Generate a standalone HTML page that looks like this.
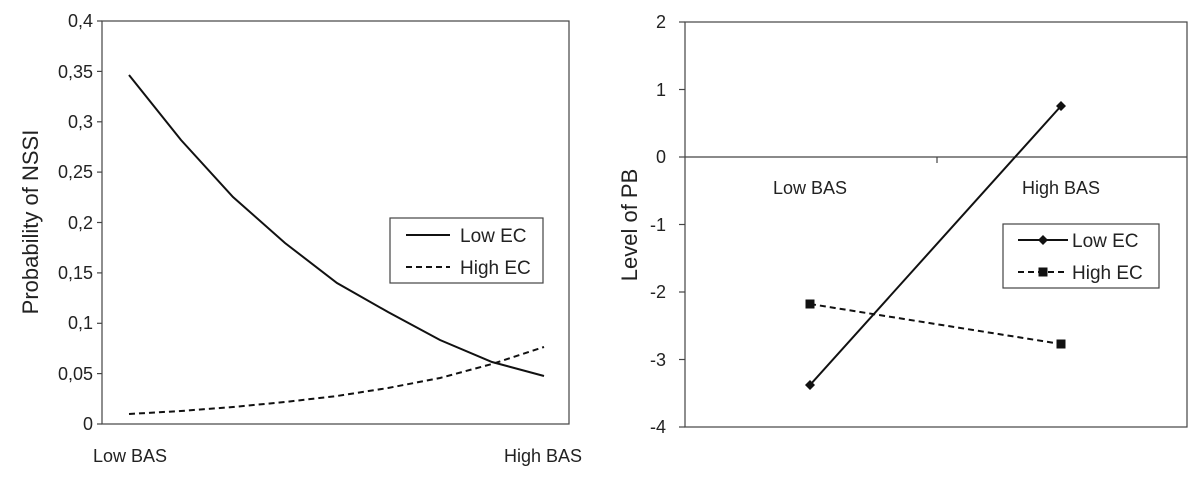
<!DOCTYPE html>
<html><head><style>body{margin:0;background:#fff}svg{display:block}text{font-family:"Liberation Sans",sans-serif;fill:#222}</style></head><body>
<svg width="1200" height="480" viewBox="0 0 1200 480">
<!-- Left chart -->
<rect x="102" y="21" width="467" height="403" fill="none" stroke="#444" stroke-width="1.2"/>
<g stroke="#444" stroke-width="1.2">
<line x1="97" y1="21" x2="102" y2="21"/><line x1="97" y1="71.4" x2="102" y2="71.4"/><line x1="97" y1="121.8" x2="102" y2="121.8"/><line x1="97" y1="172.1" x2="102" y2="172.1"/><line x1="97" y1="222.5" x2="102" y2="222.5"/><line x1="97" y1="272.9" x2="102" y2="272.9"/><line x1="97" y1="323.3" x2="102" y2="323.3"/><line x1="97" y1="373.6" x2="102" y2="373.6"/><line x1="97" y1="424" x2="102" y2="424"/>
</g>
<g font-size="18" text-anchor="end">
<text x="93" y="27">0,4</text><text x="93" y="78">0,35</text><text x="93" y="128">0,3</text><text x="93" y="178">0,25</text><text x="93" y="229">0,2</text><text x="93" y="279">0,15</text><text x="93" y="329">0,1</text><text x="93" y="380">0,05</text><text x="93" y="430">0</text>
</g>
<text transform="translate(38,222) rotate(-90)" font-size="22" text-anchor="middle">Probability of NSSI</text>
<text x="130" y="462" font-size="18" text-anchor="middle">Low BAS</text>
<text x="543" y="462" font-size="18" text-anchor="middle">High BAS</text>
<polyline fill="none" stroke="#111" stroke-width="2" points="129,75 181,140 233,197 285,243 337,283 388,312 440,340 492,362 544,376"/>
<polyline fill="none" stroke="#111" stroke-width="2" stroke-dasharray="6,4" points="129,414 181,411 233,407 285,402 337,396 388,388 440,378 492,364 544,347"/>
<rect x="390" y="218" width="153" height="65" fill="#fff" stroke="#444" stroke-width="1.2"/>
<line x1="406" y1="235" x2="450" y2="235" stroke="#111" stroke-width="2"/>
<line x1="406" y1="267" x2="450" y2="267" stroke="#111" stroke-width="2" stroke-dasharray="6,4"/>
<text x="460" y="242" font-size="19">Low EC</text>
<text x="460" y="274" font-size="19">High EC</text>
<!-- Right chart -->
<rect x="685" y="22" width="502" height="405" fill="none" stroke="#444" stroke-width="1.2"/>
<line x1="685" y1="157" x2="1187" y2="157" stroke="#444" stroke-width="1.2"/>
<line x1="937" y1="157" x2="937" y2="163" stroke="#444" stroke-width="1.2"/>
<g stroke="#444" stroke-width="1.2">
<line x1="679" y1="22" x2="685" y2="22"/><line x1="679" y1="89.5" x2="685" y2="89.5"/><line x1="679" y1="157" x2="685" y2="157"/><line x1="679" y1="224.5" x2="685" y2="224.5"/><line x1="679" y1="292" x2="685" y2="292"/><line x1="679" y1="359.5" x2="685" y2="359.5"/><line x1="679" y1="427" x2="685" y2="427"/>
</g>
<g font-size="18" text-anchor="end">
<text x="666" y="28">2</text><text x="666" y="96">1</text><text x="666" y="163">0</text><text x="666" y="231">-1</text><text x="666" y="298">-2</text><text x="666" y="366">-3</text><text x="666" y="433">-4</text>
</g>
<text transform="translate(637,225) rotate(-90)" font-size="22" text-anchor="middle">Level of PB</text>
<text x="810" y="194" font-size="18" text-anchor="middle">Low BAS</text>
<text x="1061" y="194" font-size="18" text-anchor="middle">High BAS</text>
<line x1="810" y1="385" x2="1061" y2="106" stroke="#111" stroke-width="2"/>
<line x1="810" y1="304" x2="1061" y2="344" stroke="#111" stroke-width="2" stroke-dasharray="6,4"/>
<path d="M810 380 L815 385 L810 390 L805 385Z M1061 101 L1066 106 L1061 111 L1056 106Z" fill="#111"/>
<rect x="805.5" y="299.5" width="9" height="9" fill="#111"/><rect x="1056.5" y="339.5" width="9" height="9" fill="#111"/>
<rect x="1003" y="224" width="156" height="64" fill="#fff" stroke="#444" stroke-width="1.2"/>
<line x1="1018" y1="240" x2="1068" y2="240" stroke="#111" stroke-width="2"/>
<path d="M1043 235 L1048 240 L1043 245 L1038 240Z" fill="#111"/>
<line x1="1018" y1="272" x2="1068" y2="272" stroke="#111" stroke-width="2" stroke-dasharray="6,4"/>
<rect x="1038.5" y="267.5" width="9" height="9" fill="#111"/>
<text x="1072" y="247" font-size="19">Low EC</text>
<text x="1072" y="279" font-size="19">High EC</text>
</svg>
</body></html>
